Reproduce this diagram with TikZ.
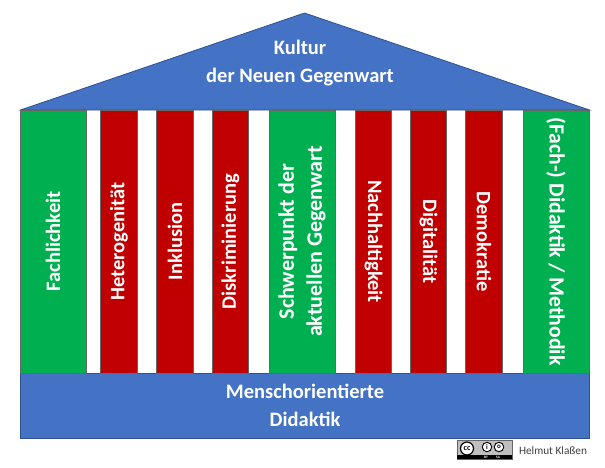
\documentclass[tikz,border=0pt]{standalone}
\usepackage{fontspec}
\setmainfont{Carlito}
\begin{document}
\begin{tikzpicture}
[x=1pt,y=-1pt,
  blockdecorate/.style={draw=blockedge,line width=0.8pt,fill=blockblue},%
  columndecorate/.style={shape=rectangle,rotate=90,draw=black!60,line width=0.7pt,
    minimum width=263pt,inner sep=0pt,align=center,text=white,font=\fontsize{20.5}{27}\bfseries},%
  greendecorate/.style={columndecorate,fill=columngreen,minimum height=66pt},%
  reddecorate/.style={columndecorate,fill=columnred,minimum height=36.5pt},%
  downdecorate/.style={rotate=180},%
  textdecorate/.style={text=white,align=center,font=\fontsize{20.5}{27.5}\bfseries}]
\definecolor{blockblue}{HTML}{4472C4}
\definecolor{blockedge}{HTML}{2F528F}
\definecolor{columngreen}{HTML}{00B050}
\definecolor{columnred}{HTML}{C00000}
\useasboundingbox (0,0) rectangle (605,467);
% roof and base
\coordinate (eaveleft) at (20.5,110);
\coordinate (ridge) at (304.5,13);
\coordinate (eaveright) at (589.5,110);
\draw[blockdecorate] (eaveleft) -- (ridge) -- (eaveright) -- cycle;
\node (roof) at (300,63) [textdecorate] {Kultur\\der Neuen Gegenwart};
\node (base) at (305,405.5) [shape=rectangle,blockdecorate,minimum width=569pt,minimum height=65pt,inner sep=0pt,textdecorate] {Menschorientierte\\Didaktik};
% columns
\node (fach) at (53,241.5) [greendecorate] {Fachlichkeit};
\node (hetero) at (119,241.5) [reddecorate] {Heterogenität};
\node (inklusion) at (175,241.5) [reddecorate] {Inklusion};
\node (diskr) at (230.5,241.5) [reddecorate] {Diskriminierung};
\node (schwer) at (302,241.5) [greendecorate,font=\fontsize{22}{28}\bfseries] {Schwerpunkt der\\aktuellen Gegenwart};
\node (nachhalt) at (373.5,241.5) [reddecorate,downdecorate] {Nachhaltigkeit};
\node (digital) at (428.5,241.5) [reddecorate,downdecorate] {Digitalität};
\node (demo) at (484,241.5) [reddecorate,downdecorate] {Demokratie};
\node (methodik) at (556,241.5) [greendecorate,downdecorate,font=\fontsize{21.7}{27}\bfseries] {(Fach-) Didaktik / Methodik};
% licence badge
\node (badge) at (484.5,449.5) [shape=rectangle,draw=black!60,fill=black!25,minimum width=55pt,minimum height=19pt,inner sep=0pt] {};
\fill[black] (457,454.5) rectangle (512,459);
\node (cc) at (467,448.5) [shape=circle,draw=black,line width=1.2pt,fill=white,minimum size=13pt,inner sep=0pt,font=\fontsize{8}{8}\bfseries] {cc};
\node (by) at (487,447) [shape=circle,draw=black,line width=0.9pt,fill=white,minimum size=9.5pt,inner sep=0pt,font=\fontsize{7}{7}\bfseries] {i};
\node (sa) at (499,447) [shape=circle,draw=black,line width=0.9pt,fill=white,minimum size=9.5pt,inner sep=0pt,font=\fontsize{7}{7}\bfseries] {o};
\node (bylabel) at (486,457) [text=white,inner sep=0pt,font=\fontsize{3.5}{4}\bfseries] {BY};
\node (salabel) at (498,457) [text=white,inner sep=0pt,font=\fontsize{3.5}{4}\bfseries] {SA};
\node (author) at (553,451) [text=black!75,inner sep=0pt,font=\fontsize{11.3}{12}\selectfont] {Helmut Klaßen};
\end{tikzpicture}
\end{document}
